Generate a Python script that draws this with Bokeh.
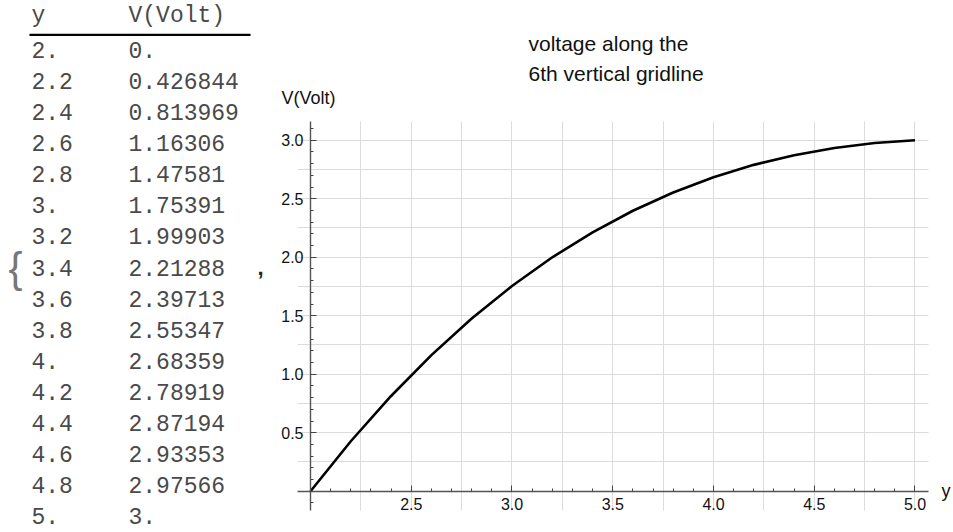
from bokeh.plotting import figure
from bokeh.models import FixedTicker, Range1d, Label, ColumnDataSource, PrintfTickFormatter, Grid
from bokeh.core.properties import value
from bokeh.embed import file_html
from bokeh.resources import INLINE

# ---------------- data ----------------
y_vals = [2.0, 2.2, 2.4, 2.6, 2.8, 3.0, 3.2, 3.4, 3.6, 3.8, 4.0, 4.2, 4.4, 4.6, 4.8, 5.0]
v_vals = [0.0, 0.426844, 0.813969, 1.16306, 1.47581, 1.75391, 1.99903, 2.21288,
          2.39713, 2.55347, 2.68359, 2.78919, 2.87194, 2.93353, 2.97566, 3.0]
y_labels = ["2.", "2.2", "2.4", "2.6", "2.8", "3.", "3.2", "3.4", "3.6", "3.8",
            "4.", "4.2", "4.4", "4.6", "4.8", "5."]
v_labels = ["0.", "0.426844", "0.813969", "1.16306", "1.47581", "1.75391", "1.99903",
            "2.21288", "2.39713", "2.55347", "2.68359", "2.78919", "2.87194",
            "2.93353", "2.97566", "3."]
headers = ["y", "V(Volt)"]
title_lines = ["voltage along the", "6th vertical gridline"]
x_axis_label = "y"
y_axis_label = "V(Volt)"

x_major = [2.5, 3.0, 3.5, 4.0, 4.5, 5.0]
y_major = [0.5, 1.0, 1.5, 2.0, 2.5, 3.0]
x_minor = [round(2.0 + 0.1 * i, 1) for i in range(31)]
y_minor = [round(-0.1 + 0.1 * i, 1) for i in range(33)]
x_grid = [2.25, 2.5, 2.75, 3.0, 3.25, 3.5, 3.75, 4.0, 4.25, 4.5, 4.75, 5.0]
y_grid = [0.25, 0.5, 0.75, 1.0, 1.25, 1.5, 1.75, 2.0, 2.25, 2.5, 2.75, 3.0]

# plot-area extent (data units)
X_LO, X_HI = 1.9355, 5.067
Y_LO, Y_HI = -0.165, 3.164

W, H = 953, 532
p = figure(width=W, height=H,
           x_range=Range1d(0.46154, 5.19107), y_range=Range1d(-0.35299, 4.19402),
           min_border=0, toolbar_location=None, output_backend="svg")
p.outline_line_color = None
p.extra_x_ranges = {"tx": Range1d(0, W)}
p.extra_y_ranges = {"ty": Range1d(15.52, -1.585)}

# ---------------- axes ----------------
p.xaxis.fixed_location = 0
p.yaxis.fixed_location = 2.0
p.xaxis.bounds = (X_LO, X_HI)
p.yaxis.bounds = (Y_LO, Y_HI)
p.xaxis.ticker = FixedTicker(ticks=x_major, minor_ticks=x_minor)
p.yaxis.ticker = FixedTicker(ticks=y_major, minor_ticks=y_minor)
for ax in (p.xaxis, p.yaxis):
    ax.formatter = PrintfTickFormatter(format="%.1f")
    ax.axis_line_color = "#555555"
    ax.axis_line_width = 1.4
    ax.major_tick_line_color = "#444444"
    ax.minor_tick_line_color = "#444444"
    ax.major_tick_in = 6
    ax.major_tick_out = 0
    ax.minor_tick_in = 3
    ax.minor_tick_out = 0
    ax.major_label_text_font = "Liberation Sans"
    ax.major_label_text_font_size = "16px"
    ax.major_label_text_color = "#111111"
p.xaxis.major_label_standoff = 7
p.yaxis.major_label_standoff = 7

# ---------------- grid ----------------
p.xgrid.visible = False
p.ygrid.visible = False
has_cross = "cross_bounds" in Grid.properties()
if has_cross:
    p.add_layout(Grid(dimension=0, ticker=FixedTicker(ticks=x_grid), bounds=(X_LO, X_HI),
                      cross_bounds=(Y_LO, Y_HI), grid_line_color="#dcdcdc", grid_line_width=1))
    p.add_layout(Grid(dimension=1, ticker=FixedTicker(ticks=y_grid), bounds=(Y_LO, Y_HI),
                      cross_bounds=(X_LO, X_HI), grid_line_color="#dcdcdc", grid_line_width=1))
else:
    p.segment(x0=x_grid, y0=[Y_LO] * len(x_grid), x1=x_grid, y1=[Y_HI] * len(x_grid),
              line_color="#dcdcdc", line_width=1, level="underlay")
    p.segment(x0=[X_LO] * len(y_grid), y0=y_grid, x1=[X_HI] * len(y_grid), y1=y_grid,
              line_color="#dcdcdc", line_width=1, level="underlay")

# ---------------- curve ----------------
p.line(y_vals, v_vals, line_color="black", line_width=2.6)

# ---------------- plot texts ----------------
for txt, yy in zip(title_lines, [3.826, 3.566]):
    p.add_layout(Label(x=3.0819, y=yy, text=txt, text_font="Liberation Sans",
                       text_font_size="21px", text_align="left", text_baseline="middle",
                       text_color="#111111"))
p.add_layout(Label(x=1.990, y=3.357, text=y_axis_label, text_font="Liberation Sans",
                   text_font_size="18px", text_align="center", text_baseline="middle",
                   text_color="#111111"))
p.add_layout(Label(x=5.1315, y=0.0, text=x_axis_label, text_font="Liberation Sans",
                   text_font_size="18px", text_align="left", text_baseline="alphabetic",
                   text_color="#111111"))

# ---------------- table (left) ----------------
rows = list(range(len(y_labels)))
src = ColumnDataSource(dict(row=rows, ylab=y_labels, vlab=v_labels))
mono = value("Liberation Mono")
tkw = dict(x_range_name="tx", y_range_name="ty", text_font=mono, text_font_size="23px",
           text_baseline="middle", text_align="left", text_color="#4a4a4a")
p.text(x=31, y="row", text="ylab", source=src, **tkw)
p.text(x=128, y="row", text="vlab", source=src, **tkw)
p.text(x=[31, 128], y=[-1.071, -1.071], text=headers, **tkw)
p.segment(x0=[29], y0=[-0.482], x1=[250], y1=[-0.482], line_color="black", line_width=2.2,
          x_range_name="tx", y_range_name="ty")
p.text(x=[8], y=[7.0], text=["{"], x_range_name="tx", y_range_name="ty",
       text_font=value("Liberation Sans"), text_font_size="42px", text_baseline="middle",
       text_align="left", text_color="#777777")
p.text(x=[260], y=[7.0], text=[","], x_range_name="tx", y_range_name="ty",
       text_font=value("Liberation Sans"), text_font_size="22px", text_font_style="bold",
       text_baseline="alphabetic", text_align="center", text_color="#222222")

open("out.html", "w").write(file_html(p, INLINE))
